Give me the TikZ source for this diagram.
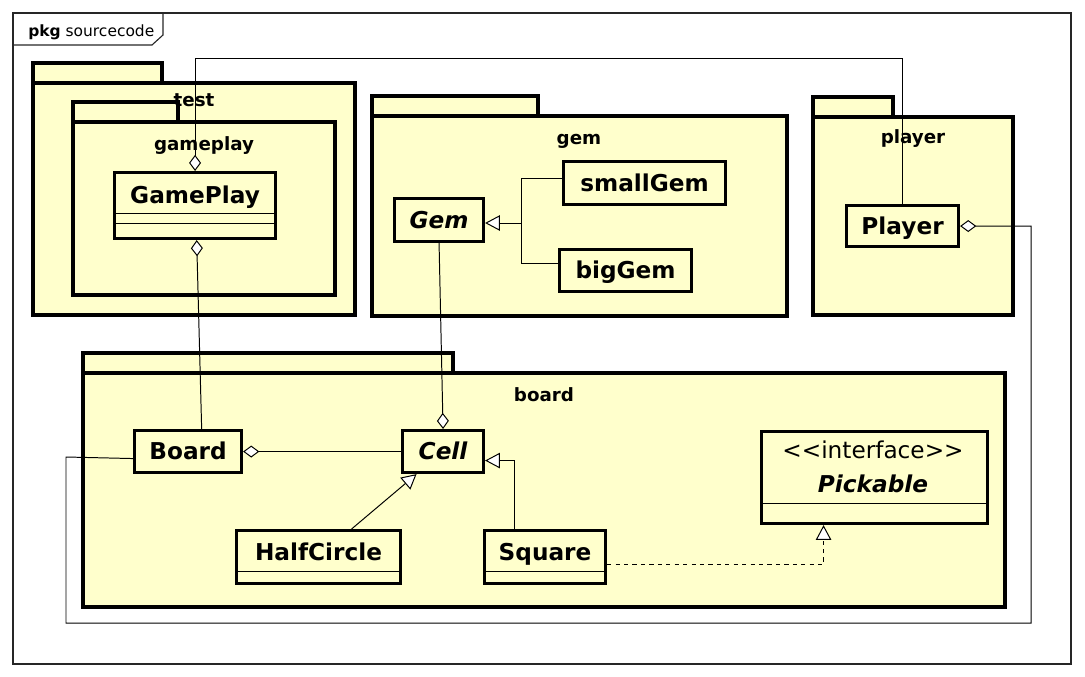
\documentclass[tikz,border=0pt]{standalone}
\usepackage{fontspec}
\setmainfont{DejaVu Sans}
\newfontfamily\stereofont{DejaVu Sans}[Ligatures=TeXOff]
\usetikzlibrary{arrows.meta}

\definecolor{pkgfill}{HTML}{FFFFCC}

\tikzset{
  outer/.style={draw=black!85, line width=0.8pt},
  pkg/.style={draw=black, fill=pkgfill, line width=2.2pt},
  pkglabel/.style={anchor=base, inner sep=0pt, font=\fontsize{13}{15}\selectfont\bfseries},
  cls/.style={draw=black, fill=pkgfill, line width=2.2pt, anchor=north west, inner sep=0pt,
    text height=12pt, text depth=0pt, font=\fontsize{16.5}{19}\selectfont\bfseries},
  abstract/.style={font=\fontsize{16.5}{19}\selectfont\bfseries\itshape},
  conn/.style={draw=black, line width=0.7pt},
  agg/.style={conn, {Diamond[fill=white, length=11.5pt, width=8.5pt]}-},
  gen/.style={conn, -{Triangle[fill=white, length=10.5pt, width=11pt]}},
  real/.style={gen, dashed},
}

\begin{document}
\begin{tikzpicture}[x=0.025cm, y=-0.025cm]
                \useasboundingbox (0,0) rectangle (1085,677);
                % Frame
                \draw[outer] (13,13) rectangle (1071,664);
                \draw[outer] (13,45) -- (152,45) -- (163,35) -- (163,13);
                \node[anchor=base west, inner sep=0pt, font=\fontsize{11}{13}\selectfont] (title) at (28,36) {\textbf{pkg} sourcecode};

                % Package test with gameplay inside
                \draw[pkg] (33,63) rectangle (162,83);
                \draw[pkg] (33,83) rectangle (355,315);
                \draw[pkg] (73,102) rectangle (178,122);
                \draw[pkg] (73,122) rectangle (335,295);
                \node[pkglabel] (testlabel) at (194,106) {test};
                \node[pkglabel] (gameplaylabel) at (204,150) {gameplay};
                \node[cls, minimum width=4.025cm, text height=0.775cm, text depth=0.875cm] (GamePlay) at (113,171) {GamePlay};
                \draw[conn] ([yshift=-1.05cm]GamePlay.north west) -- ([yshift=-1.05cm]GamePlay.north east);
                \draw[conn] ([yshift=-1.3cm]GamePlay.north west) -- ([yshift=-1.3cm]GamePlay.north east);

                % Package gem
                \draw[pkg] (372,96) rectangle (538,116);
                \draw[pkg] (372,116) rectangle (787,316);
                \node[pkglabel] (gemlabel) at (579,144) {gem};
                \node[cls, abstract, minimum width=2.225cm, minimum height=1.075cm] (Gem) at (393,197) {Gem};
                \node[cls, minimum width=4.05cm, minimum height=1.075cm] (smallGem) at (562,160) {smallGem};
                \node[cls, minimum width=3.3cm, minimum height=1.05cm] (bigGem) at (558,248) {bigGem};

                % Package player
                \draw[pkg] (813,97) rectangle (893,117);
                \draw[pkg] (813,117) rectangle (1013,315);
                \node[pkglabel] (playerlabel) at (913,143) {player};
                \node[cls, minimum width=2.8cm, minimum height=1.025cm] (Player) at (845,204) {Player};

                % Package board
                \draw[pkg] (83,353) rectangle (453,373);
                \draw[pkg] (83,373) rectangle (1005,607);
                \node[pkglabel] (boardlabel) at (544,401) {board};
                \node[cls, minimum width=2.675cm, minimum height=1.05cm] (Board) at (133,429) {Board};
                \node[cls, abstract, minimum width=2.025cm, minimum height=1.05cm] (Cell) at (401,429) {Cell};
                \node[cls, minimum width=4.1cm, text height=0.7375cm, text depth=0.5875cm] (HalfCircle) at (235,529) {HalfCircle};
                \draw[conn] ([yshift=-1.05cm]HalfCircle.north west) -- ([yshift=-1.05cm]HalfCircle.north east);
                \node[cls, minimum width=3.025cm, text height=0.7375cm, text depth=0.5875cm] (Square) at (483,529) {Square};
                \draw[conn] ([yshift=-1.05cm]Square.north west) -- ([yshift=-1.05cm]Square.north east);
                \node[cls, minimum width=5.65cm, minimum height=2.3cm] (Pickable) at (760,430) {};
                \draw[conn] ([yshift=-1.825cm]Pickable.north west) -- ([yshift=-1.825cm]Pickable.north east);
                \node[anchor=base, inner sep=0pt, font=\fontsize{16.5}{19}\stereofont] (PickableTag) at (873,458) {<<interface>>};
                \node[anchor=base, inner sep=0pt, font=\fontsize{16.5}{19}\selectfont\bfseries\itshape] (PickableName) at (873,492) {Pickable};

                % Aggregations
                \coordinate (topline) at (0,58);
                \coordinate (loopright) at (1031,623);
                \coordinate (loopleft) at (66,457);
                \draw[agg] (GamePlay.north) |- (Player.north |- topline) -- (Player.north);
                \draw[agg] ([xshift=0.04cm]GamePlay.south) -- ([xshift=0.34cm]Board.north);
                \draw[agg] (Cell.north) -- (Gem.south);
                \draw[agg] (Board.east) -- (Cell.west);
                \draw[agg] (Player.east) -| (loopright) -| (loopleft) -- ([yshift=-0.175cm]Board.west);

                % Generalizations
                \coordinate (gemjoin) at (521,223);
                \draw[conn] ([yshift=0.1125cm]smallGem.west) -| (gemjoin);
                \draw[conn] ([yshift=0.175cm]bigGem.west) -| (gemjoin);
                \draw[gen] (gemjoin) -- (gemjoin -| Gem.east);
                \draw[gen] ([xshift=0.825cm]HalfCircle.north) -- ([xshift=-0.6625cm]Cell.south);
                \draw[gen] ([xshift=-0.7625cm]Square.north) |- ([yshift=-0.225cm]Cell.east);
                \draw[real] ([yshift=-0.1875cm]Square.east) -| ([xshift=-1.275cm]Pickable.south);
            \end{tikzpicture}
\end{document}
